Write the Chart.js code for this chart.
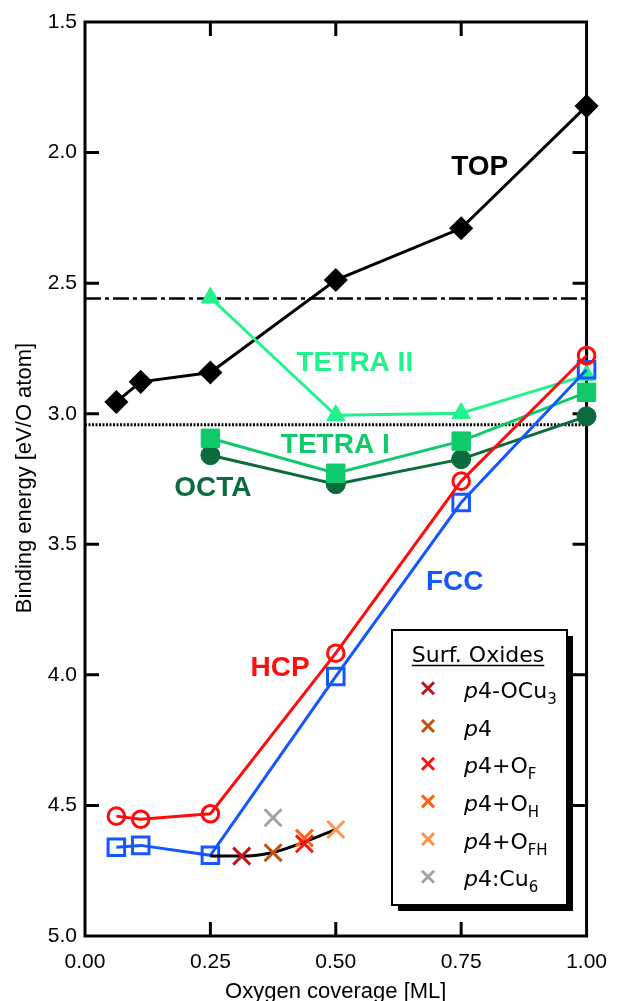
<!DOCTYPE html>
<html>
<head>
<meta charset="utf-8">
<script src="https://cdn.jsdelivr.net/npm/chart.js@4/dist/chart.umd.min.js"></script>
<style>
  html, body { margin: 0; padding: 0; background: #fff; }
  canvas { display: block; }
</style>
</head>
<body>
<canvas id="chart" width="621" height="1001"></canvas>
<script>
// Binding energies of atomic O on the surface sites (eV per O atom)
const coverage     = [0.0625, 0.1111, 0.25, 0.5, 0.75, 1.0];
const topEnergy    = [2.955, 2.878, 2.842, 2.488, 2.290, 1.822];
const hcpEnergy    = [4.541, 4.553, 4.532, 3.917, 3.258, 2.777];
const fccEnergy    = [4.660, 4.653, 4.691, 4.006, 3.340, 2.832];

// Subsurface sites
const subCoverage  = [0.25, 0.5, 0.75, 1.0];
const tetra2Energy = [2.556, 3.006, 2.998, 2.852];
const tetra1Energy = [3.094, 3.228, 3.105, 2.918];
const octaEnergy   = [3.159, 3.270, 3.174, 3.010];

// Surface oxide structures
const oxideCoverage = [0.3125, 0.375, 0.4375, 0.4375, 0.5, 0.375];
const oxideEnergy   = [4.694, 4.681, 4.647, 4.625, 4.592, 4.547];
// label pieces: [text, kind] with kind '' normal, 'i' italic, 's' subscript
const oxideLabels = [
  [['p', 'i'], ['4-OCu', ''], ['3', 's']],
  [['p', 'i'], ['4', '']],
  [['p', 'i'], ['4+O', ''], ['F', 's']],
  [['p', 'i'], ['4+O', ''], ['H', 's']],
  [['p', 'i'], ['4+O', ''], ['FH', 's']],
  [['p', 'i'], ['4:Cu', ''], ['6', 's']]
];

// Trend through the p4 oxide family
const fitCoverage = [0.25, 0.3125, 0.375, 0.4375, 0.5];
const fitEnergy   = [4.694, 4.694, 4.680, 4.640, 4.592];

// Reference levels
const refDashDot = 2.559;
const refDotted  = 3.042;

// Axis ticks
const xTickValues = [0, 0.25, 0.5, 0.75, 1.0];
const yTickValues = [1.5, 2.0, 2.5, 3.0, 3.5, 4.0, 4.5, 5.0];

// Site names written next to their curves
const siteNames = ['TOP', 'TETRA II', 'TETRA I', 'OCTA', 'FCC', 'HCP'];

// ---------------------------------------------------------------
const C = {
  top: '#000000',
  tetra2: '#22f28c',
  tetra1: '#10c96a',
  octa: '#0b6b3c',
  hcp: '#ff0d0d',
  fcc: '#1457ff',
  oxides: ['#c0141c', '#c4500e', '#ff1212', '#ff6410', '#ff9450', '#a3a3a3']
};
const FONT = "'Liberation Sans', Arial, Helvetica, sans-serif";
const LEGEND_FONT = "'DejaVu Sans', Verdana, sans-serif";

const pts = (xs, ys) => xs.map((x, i) => ({ x, y: ys[i] }));

const datasets = [];

// surface oxides (topmost)
oxideCoverage.forEach((cv, i) => {
  datasets.push({
    label: oxideLabels[i].map(p => p[0]).join(''),
    data: [{ x: cv, y: oxideEnergy[i] }],
    showLine: false,
    pointStyle: 'crossRot',
    pointRadius: 12,
    pointBorderWidth: 3,
    borderColor: C.oxides[i],
    backgroundColor: C.oxides[i],
    order: 1,
    isOxide: true,
    oxideIndex: i
  });
});

datasets.push({
  label: 'fit', data: pts(fitCoverage, fitEnergy), showLine: true,
  borderColor: '#000', borderWidth: 3, pointRadius: 0,
  cubicInterpolationMode: 'monotone', order: 2
});
datasets.push({
  label: 'HCP', data: pts(coverage, hcpEnergy), showLine: true,
  borderColor: C.hcp, borderWidth: 3, pointStyle: 'circle', pointRadius: 8.3,
  pointBorderWidth: 3, backgroundColor: 'rgba(0,0,0,0)', order: 3
});
datasets.push({
  label: 'FCC', data: pts(coverage, fccEnergy), showLine: true,
  borderColor: C.fcc, borderWidth: 3, pointStyle: 'rect', pointRadius: 11.7,
  pointBorderWidth: 3, backgroundColor: 'rgba(0,0,0,0)', order: 4
});
datasets.push({
  label: 'TETRA II', data: pts(subCoverage, tetra2Energy), showLine: true,
  borderColor: C.tetra2, backgroundColor: C.tetra2, borderWidth: 3,
  pointStyle: 'triangle', pointRadius: 10.5, pointBorderWidth: 1, order: 5
});
datasets.push({
  label: 'TETRA I', data: pts(subCoverage, tetra1Energy), showLine: true,
  borderColor: C.tetra1, backgroundColor: C.tetra1, borderWidth: 3,
  pointStyle: 'rect', pointRadius: 13, pointBorderWidth: 1, order: 6
});
datasets.push({
  label: 'OCTA', data: pts(subCoverage, octaEnergy), showLine: true,
  borderColor: C.octa, backgroundColor: C.octa, borderWidth: 3,
  pointStyle: 'circle', pointRadius: 9.5, pointBorderWidth: 1, order: 7
});
datasets.push({
  label: 'TOP', data: pts(coverage, topEnergy), showLine: true,
  borderColor: C.top, backgroundColor: C.top, borderWidth: 3,
  pointStyle: 'rectRot', pointRadius: 11, pointBorderWidth: 1.5, order: 8
});
datasets.push({
  label: 'ref1', data: [{ x: 0, y: refDashDot }, { x: 1, y: refDashDot }], showLine: true,
  borderColor: '#000', borderWidth: 2.5, borderDash: [16, 4, 4, 4], pointRadius: 0, order: 9
});
datasets.push({
  label: 'ref2', data: [{ x: 0, y: refDotted }, { x: 1, y: refDotted }], showLine: true,
  borderColor: '#000', borderWidth: 3, borderDash: [2, 1.5], pointRadius: 0, order: 10
});
datasets.forEach(d => { d.clip = false; d.pointHoverRadius = d.pointRadius; });

// Frame with inward ticks on all four sides
const framePlugin = {
  id: 'frame',
  beforeDatasetsDraw(chart) {
    const { ctx, chartArea: a, scales: { x, y } } = chart;
    const L = 14;
    ctx.save();
    ctx.strokeStyle = '#000';
    ctx.lineWidth = 3;
    ctx.beginPath();
    x.ticks.forEach(t => {
      const px = x.getPixelForValue(t.value);
      if (px <= a.left + 1 || px >= a.right - 1) return;
      ctx.moveTo(px, a.top); ctx.lineTo(px, a.top + L);
      ctx.moveTo(px, a.bottom); ctx.lineTo(px, a.bottom - L);
    });
    y.ticks.forEach(t => {
      const py = y.getPixelForValue(t.value);
      if (py <= a.top + 1 || py >= a.bottom - 1) return;
      ctx.moveTo(a.left, py); ctx.lineTo(a.left + L, py);
      ctx.moveTo(a.right, py); ctx.lineTo(a.right - L, py);
    });
    ctx.stroke();
    ctx.lineJoin = 'miter';
    ctx.strokeRect(a.left, a.top, a.right - a.left, a.bottom - a.top);
    ctx.restore();
  }
};

// Site labels, axis titles and the oxide legend
const labelAnchors = {
  'TOP':      { x: 0.787, y: 2.058, color: C.top },
  'TETRA II': { x: 0.538, y: 2.807, color: C.tetra2 },
  'TETRA I':  { x: 0.499, y: 3.121, color: C.tetra1 },
  'OCTA':     { x: 0.255, y: 3.286, color: C.octa },
  'FCC':      { x: 0.737, y: 3.646, color: C.fcc },
  'HCP':      { x: 0.389, y: 3.976, color: C.hcp }
};

const annotatePlugin = {
  id: 'annotate',
  afterDraw(chart) {
    const { ctx, scales: { x, y } } = chart;
    ctx.save();
    // site names
    ctx.font = `bold 28px ${FONT}`;
    ctx.textAlign = 'center';
    ctx.textBaseline = 'middle';
    siteNames.forEach(n => {
      const a = labelAnchors[n];
      ctx.fillStyle = a.color;
      ctx.fillText(n, x.getPixelForValue(a.x), y.getPixelForValue(a.y));
    });

    // axis titles
    ctx.fillStyle = '#000';
    ctx.font = `22px ${FONT}`;
    ctx.textBaseline = 'alphabetic';
    ctx.fillText('Oxygen coverage [ML]', (x.left + x.right) / 2, 998);
    ctx.save();
    ctx.translate(31, 478);
    ctx.rotate(-Math.PI / 2);
    ctx.font = `22px ${FONT}`;
    ctx.fillText('Binding energy [eV/O atom]', 0, 0);
    ctx.restore();

    // legend box with drop shadow
    const bx = 392, by = 630, bw = 175, bh = 275;
    ctx.fillStyle = '#000';
    ctx.fillRect(bx + 6, by + 6, bw, bh);
    ctx.fillStyle = '#fff';
    ctx.fillRect(bx, by, bw, bh);
    ctx.strokeStyle = '#000';
    ctx.lineWidth = 2;
    ctx.strokeRect(bx, by, bw, bh);

    ctx.fillStyle = '#000';
    ctx.font = `22px ${LEGEND_FONT}`;
    ctx.textAlign = 'center';
    const title = 'Surf. Oxides';
    ctx.fillText(title, 478, 662);
    const tw = ctx.measureText(title).width;
    ctx.lineWidth = 1.5;
    ctx.beginPath();
    ctx.moveTo(478 - tw / 2, 665.5);
    ctx.lineTo(478 + tw / 2, 665.5);
    ctx.stroke();

    ctx.textAlign = 'left';
    chart.data.datasets.filter(d => d.isOxide).forEach(d => {
      const i = d.oxideIndex;
      const cy = 688.3 + i * 37.7;
      ctx.strokeStyle = d.borderColor;
      ctx.lineWidth = 3;
      Chart.helpers.drawPoint(ctx, { pointStyle: 'crossRot', radius: 8.5, rotation: 0, borderWidth: 3 }, 428, cy);
      let tx = 464;
      const base = cy + 9.5;
      ctx.fillStyle = '#000';
      oxideLabels[i].forEach(([t, kind]) => {
        if (kind === 's') {
          ctx.font = `15px ${LEGEND_FONT}`;
          ctx.fillText(t, tx, base + 6);
        } else {
          ctx.font = `${kind === 'i' ? 'italic ' : ''}22px ${LEGEND_FONT}`;
          ctx.fillText(t, tx, base);
        }
        tx += ctx.measureText(t).width;
      });
    });
    ctx.restore();
  }
};

new Chart(document.getElementById('chart'), {
  type: 'scatter',
  data: { datasets },
  options: {
    responsive: false,
    animation: false,
    events: [],
    layout: { padding: { left: 0, right: 24, top: 22, bottom: 0 }, autoPadding: false },
    plugins: { legend: { display: false }, tooltip: { enabled: false } },
    scales: {
      x: {
        type: 'linear', min: 0, max: 1,
        afterBuildTicks(s) { s.ticks = xTickValues.map(v => ({ value: v })); },
        afterFit(s) { s.height = 65; },
        grid: { display: false, drawTicks: false },
        border: { display: false },
        ticks: {
          padding: 14, color: '#000', maxRotation: 0, autoSkip: false,
          font: { family: FONT, size: 21 },
          callback: v => Number(v).toFixed(2)
        }
      },
      y: {
        type: 'linear', reverse: true, min: 1.5, max: 5.0,
        afterBuildTicks(s) { s.ticks = yTickValues.map(v => ({ value: v })); },
        afterFit(s) { s.width = 85; },
        grid: { display: false, drawTicks: false },
        border: { display: false },
        ticks: {
          padding: 8, color: '#000', autoSkip: false,
          font: { family: FONT, size: 21 },
          callback: v => Number(v).toFixed(1)
        }
      }
    }
  },
  plugins: [framePlugin, annotatePlugin]
});
</script>
</body>
</html>
